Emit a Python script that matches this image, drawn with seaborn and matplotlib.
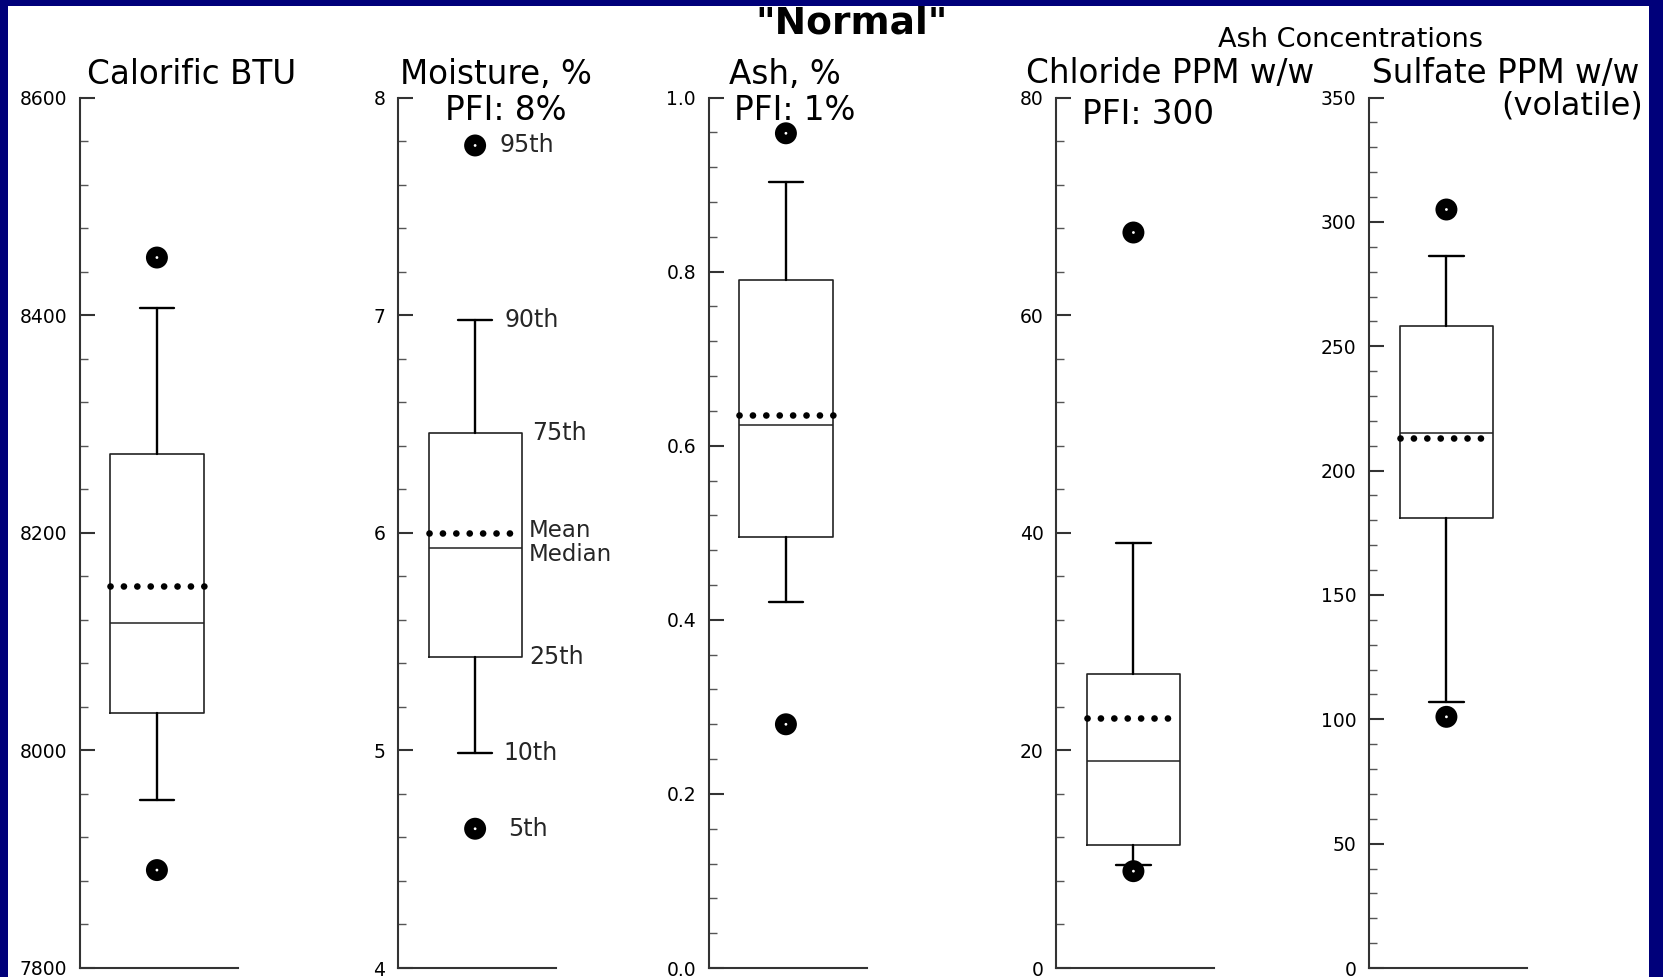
import pandas as pd
import matplotlib
matplotlib.use('Agg')
import matplotlib.pyplot as plt
import seaborn as sns
from matplotlib.patches import Rectangle
from matplotlib.ticker import MultipleLocator, AutoMinorLocator, FormatStrFormatter

# percentile summaries, one entry per panel
titles = ['Calorific BTU', 'Moisture, %', 'Ash, %', 'Chloride PPM w/w', 'Sulfate PPM w/w']
p5 = [7890, 4.64, 0.28, 8.9, 101]
p10 = [7954, 4.99, 0.42, 9.5, 107]
p25 = [8034, 5.43, 0.495, 11.3, 181]
medians = [8117, 5.93, 0.624, 19.0, 215]
means = [8151, 6.00, 0.635, 23.0, 213]
p75 = [8272, 6.46, 0.79, 27.0, 258]
p90 = [8407, 6.98, 0.903, 39.1, 286.5]
p95 = [8453, 7.78, 0.959, 67.6, 305]
y_min = [7800, 4, 0.0, 0, 0]
y_max = [8600, 8, 1.0, 80, 350]
y_step = [200, 1, 0.2, 20, 50]
tick_fmt = ['%d', '%d', '%.1f', '%d', '%d']

# percentile labels shown on the moisture panel
pct_labels = ['95th', '90th', '75th', 'Mean', 'Median', '25th', '10th', '5th']

sns.set_style('ticks')

W, H = 1663, 977
fig = plt.figure(figsize=(W / 100, H / 100), dpi=100, facecolor='#00007a')
fig.patches.append(Rectangle((8 / W, 0), (1649 - 8) / W, (977 - 6) / H,
                             transform=fig.transFigure, facecolor='white',
                             edgecolor='none', zorder=-5))


def ftext(x, y, s, **kw):
    fig.text(x / W, 1 - y / H, s, ha=kw.pop('ha', 'center'), va=kw.pop('va', 'center'),
             color='black', **kw)


lefts = [79.5, 397.7, 708.5, 1056, 1369]
top_px, bot_px, ax_w = 97.6, 968, 158
line_col = '#222222'

axes = []
for i in range(5):
    ax = fig.add_axes([lefts[i] / W, 1 - bot_px / H, ax_w / W, (bot_px - top_px) / H])
    ax.set_facecolor('none')
    stats = [dict(med=medians[i], q1=p25[i], q3=p75[i], whislo=p10[i], whishi=p90[i],
                  mean=means[i], fliers=[])]
    parts = ax.bxp(stats, positions=[0.49], widths=0.59, capwidths=0.22,
                   showmeans=True, meanline=True, showfliers=False,
                   boxprops=dict(color=line_col, linewidth=1.2),
                   whiskerprops=dict(color='black', linewidth=1.7),
                   capprops=dict(color='black', linewidth=1.7),
                   medianprops=dict(color=line_col, linewidth=1.1),
                   meanprops=dict(color='black', linewidth=4.8, linestyle=(0, (0.01, 2.0))))
    for ln in parts['means']:
        ln.set_dash_capstyle('round')
        ln.set_zorder(4)

    pts = pd.DataFrame({'x': [0.49, 0.49], 'y': [p5[i], p95[i]]})
    sns.scatterplot(data=pts, x='x', y='y', ax=ax, s=250, color='black',
                    edgecolor='none', zorder=5)
    sns.scatterplot(data=pts, x='x', y='y', ax=ax, s=4, color='white',
                    edgecolor='none', zorder=6)

    ax.set_xlim(0, 1)
    ax.set_ylim(y_min[i], y_max[i])
    ax.set_xlabel('')
    ax.set_ylabel('')
    ax.yaxis.set_major_locator(MultipleLocator(y_step[i]))
    ax.yaxis.set_minor_locator(AutoMinorLocator(5))
    ax.yaxis.set_major_formatter(FormatStrFormatter(tick_fmt[i]))
    ax.tick_params(axis='x', bottom=False, labelbottom=False)
    ax.tick_params(axis='y', which='major', direction='in', length=11, width=1.5,
                   pad=9, labelsize=13.5, color='#333333', labelcolor='black')
    ax.tick_params(axis='y', which='minor', direction='in', length=5.5, width=1.0,
                   color='#555555')
    for side in ['top', 'right']:
        ax.spines[side].set_visible(False)
    for side in ['left', 'bottom']:
        ax.spines[side].set_color('#333333')
        ax.spines[side].set_linewidth(1.5)
    axes.append(ax)

# percentile annotations on the moisture panel
m = axes[1]
label_y = [p95[1], p90[1], p75[1], 6.01, 5.90, p25[1], p10[1], p5[1]]
label_x = [0.647, 0.675, 0.85, 0.83, 0.83, 0.83, 0.667, 0.70]
for lx, ly, s in zip(label_x, label_y, pct_labels):
    m.text(lx, ly, s, ha='left', va='center', fontsize=17 if s not in ('Mean', 'Median') else 16.5)

# headings
ftext(852, 23, '"Normal"', fontsize=27, fontweight='bold')
ftext(1350, 40, 'Ash Concentrations', fontsize=19.5)
title_x = [192, 496, 785, 1170, 1506]
for tx, t in zip(title_x, titles):
    ftext(tx, 74, t, fontsize=23.5)
ftext(506, 110, 'PFI: 8%', fontsize=23.5)
ftext(795, 110, 'PFI: 1%', fontsize=23.5)
ftext(1148, 115, 'PFI: 300', fontsize=23.5)
ftext(1643, 106, '(volatile)', fontsize=23, ha='right')

fig.savefig('out.png', dpi=100, facecolor=fig.get_facecolor())
